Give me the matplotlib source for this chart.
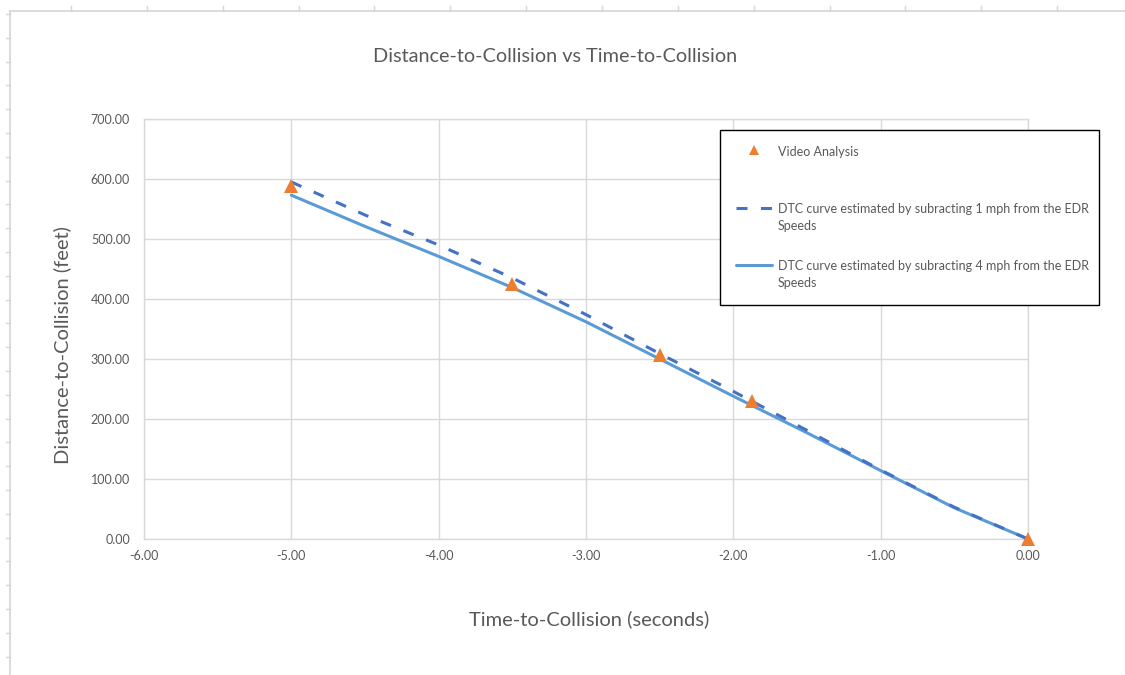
import matplotlib
matplotlib.use("Agg")
import matplotlib.pyplot as plt
from matplotlib.lines import Line2D

# data
video_t = [-5.0, -3.5, -2.5, -1.87, 0.0]
video_d = [588, 425, 306, 230, 0]

curve_t = [-5.0, -4.5, -4.0, -3.5, -3.0, -2.5, -2.0, -1.5, -1.0, -0.5, 0.0]
dtc_1mph = [595, 540, 490, 435, 374, 309, 246, 181, 115, 53, 0]
dtc_4mph = [573, 521, 471, 419, 362, 300, 238, 177, 114, 52, 0]

x_ticks = [-6, -5, -4, -3, -2, -1, 0]
y_ticks = [0, 100, 200, 300, 400, 500, 600, 700]

labels = ["Video Analysis\n",
          "DTC curve estimated by subracting 1 mph from the EDR\nSpeeds",
          "DTC curve estimated by subracting 4 mph from the EDR\nSpeeds"]

plt.rcParams["font.family"] = ["Lato", "DejaVu Sans"]

W, H = 1125, 675
fig = plt.figure(figsize=(W / 100, H / 100), dpi=100)


def fx(x):
    return x / W


def fy(y):
    return 1 - y / H


# spreadsheet cell borders around the chart
sheet = "#d6d6d6"
fig.add_artist(Line2D([fx(10), 1], [fy(10.7), fy(10.7)], color=sheet, lw=1.2, transform=fig.transFigure))
fig.add_artist(Line2D([fx(10.3), fx(10.3)], [fy(10.7), 0], color=sheet, lw=1.2, transform=fig.transFigure))
for k in range(14):
    x = 71 + 75.85 * k
    fig.add_artist(Line2D([fx(x), fx(x)], [fy(6), fy(11)], color=sheet, lw=1, transform=fig.transFigure))
for k in range(28):
    y = 14 + 23.8 * k
    fig.add_artist(Line2D([fx(6), fx(10)], [fy(y), fy(y)], color=sheet, lw=1, transform=fig.transFigure))

ax = fig.add_axes([fx(144), fy(539), fx(1028) - fx(144), fy(119) - fy(539)])

grey = "#595959"
grid = "#d9d9d9"

sol, = ax.plot(curve_t, dtc_4mph, color="#5b9bd5", lw=2.2, zorder=2, solid_capstyle="round")
dash, = ax.plot(curve_t, dtc_1mph, color="#4472c4", lw=2.2, zorder=3, dashes=(3.6, 4.4))
tri, = ax.plot(video_t, video_d, ls="none", marker="^", ms=9.5, color="#ed7d31",
               markeredgewidth=0, zorder=4)

ax.set_xlim(-6, 0)
ax.set_ylim(0, 700)
ax.set_xticks(x_ticks)
ax.set_yticks(y_ticks)
ax.set_xticklabels([f"{v:.2f}" for v in x_ticks])
ax.set_yticklabels([f"{v:.2f}" for v in y_ticks])
ax.tick_params(length=0, labelsize=9, labelcolor=grey)
ax.tick_params(axis="x", pad=8)
ax.tick_params(axis="y", pad=10)
ax.grid(True, color=grid, lw=1)
ax.set_axisbelow(True)
for s in ax.spines.values():
    s.set_color(grid)
    s.set_linewidth(1)
for a in (sol, dash, tri):
    a.set_clip_on(False)

ax.set_xlabel("Time-to-Collision (seconds)", fontsize=14.5, color=grey)
ax.xaxis.set_label_coords((589 - 144) / 884, -(610 - 539) / 420)
ax.set_ylabel("Distance-to-Collision (feet)", fontsize=14.5, color=grey)
ax.yaxis.set_label_coords(-(144 - 71) / 884, (539 - 345) / 420)

fig.text(fx(555), fy(57), "Distance-to-Collision vs Time-to-Collision",
         fontsize=14.3, color=grey, ha="center", va="center")

leg = ax.legend([tri, dash, sol], labels, loc="upper left",
                bbox_to_anchor=(fx(720), fy(131), fx(1099) - fx(720), 0.001),
                bbox_transform=fig.transFigure, mode="expand",
                fontsize=9, labelcolor=grey, frameon=True, fancybox=False,
                edgecolor="black", framealpha=1, borderpad=1.25,
                handlelength=2.9, handletextpad=0.5, labelspacing=2.3,
                borderaxespad=0, markerscale=0.75)
leg.get_frame().set_linewidth(1)
for t in leg.get_texts():
    t.set_linespacing(1.45)
# line the handles up with the first line of each label
for col in leg._legend_handle_box.get_children():
    for row in col.get_children():
        row.align = "top"

fig.savefig("out.png", dpi=100)
